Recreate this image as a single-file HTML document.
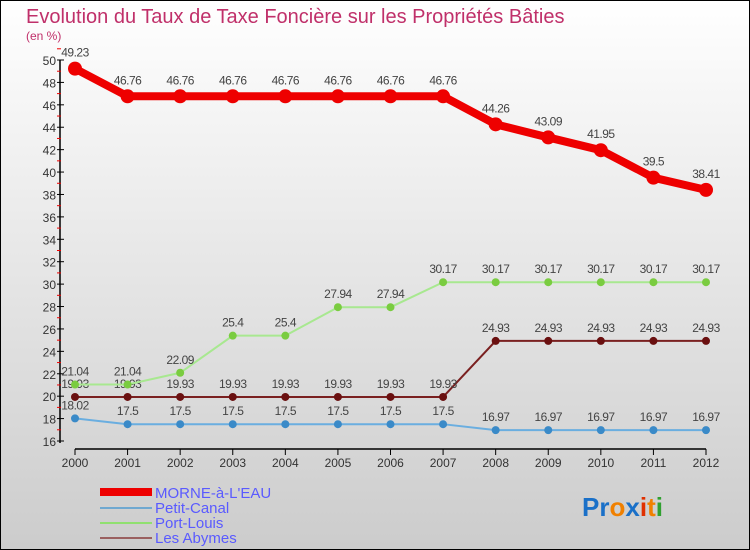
<!DOCTYPE html>
<html><head><meta charset="utf-8"><style>
body{margin:0}
#c{width:750px;height:550px;position:relative;background:linear-gradient(#fff,#ccc);font-family:"Liberation Sans",sans-serif;overflow:hidden}
</style></head><body>
<div id="c">
<svg id="s" width="750" height="550" style="position:absolute;left:0;top:0">
<rect x="0.5" y="0.5" width="749" height="549" fill="none" stroke="#000"/>
<text x="26" y="23" font-size="20" fill="#c0306a">Evolution du Taux de Taxe Foncière sur les Propriétés Bâties</text>
<text x="26" y="40" font-size="12" fill="#c0306a">(en %)</text>
<g id="ax"></g><g id="series"></g>
<g>
<rect x="100" y="488" width="52" height="8" fill="#e00"/>
<text x="155" y="498" font-size="15" fill="#5a5aff">MORNE-à-L'EAU</text>
<line x1="100" y1="508" x2="152" y2="508" stroke="#6fa8d0" stroke-width="2"/>
<text x="155" y="513" font-size="15" fill="#5a5aff">Petit-Canal</text>
<line x1="100" y1="523" x2="152" y2="523" stroke="#90e070" stroke-width="2"/>
<text x="155" y="528" font-size="15" fill="#5a5aff">Port-Louis</text>
<line x1="100" y1="538" x2="152" y2="538" stroke="#9a6060" stroke-width="2"/>
<text x="155" y="543" font-size="15" fill="#5a5aff">Les Abymes</text>
</g>
<text x="582" y="516" font-size="26" font-weight="bold"><tspan fill="#1a70c8">Pr</tspan><tspan fill="#f08000">o</tspan><tspan fill="#1a70c8">x</tspan><tspan fill="#e03000">i</tspan><tspan fill="#f08000">t</tspan><tspan fill="#30a030">i</tspan></text>
</svg>
</div>
<script>
const years=[2000,2001,2002,2003,2004,2005,2006,2007,2008,2009,2010,2011,2012];
const morne=[49.23,46.76,46.76,46.76,46.76,46.76,46.76,46.76,44.26,43.09,41.95,39.5,38.41];
const petitCanal=[18.02,17.5,17.5,17.5,17.5,17.5,17.5,17.5,16.97,16.97,16.97,16.97,16.97];
const portLouis=[21.04,21.04,22.09,25.4,25.4,27.94,27.94,30.17,30.17,30.17,30.17,30.17,30.17];
const abymes=[19.93,19.93,19.93,19.93,19.93,19.93,19.93,19.93,24.93,24.93,24.93,24.93,24.93];
const yTicks=[16,18,20,22,24,26,28,30,32,34,36,38,40,42,44,46,48,50];
const NS="http://www.w3.org/2000/svg";
const X=i=>75+i*(706-75)/(years.length-1);
const Y=v=>441-(v-16)*(441-60)/34;
function mk(p,t,a){const e=document.createElementNS(NS,t);for(const k in a)e.setAttribute(k,a[k]);p.appendChild(e);return e;}
const ax=document.getElementById('ax');
mk(ax,'line',{x1:60,y1:Y(50),x2:60,y2:Y(16)+2,stroke:'#000','stroke-width':1.5});
mk(ax,'line',{x1:X(0),y1:449,x2:X(12),y2:449,stroke:'#000','stroke-width':1.5});
yTicks.forEach(v=>{
 mk(ax,'line',{x1:57,y1:Y(v),x2:64,y2:Y(v),stroke:'#000'});
 mk(ax,'line',{x1:57,y1:Y(v+1),x2:61,y2:Y(v+1),stroke:'#e00'});
 const t=mk(ax,'text',{x:56,y:Y(v)+5,'font-size':12,'text-anchor':'end',fill:'#333'});t.textContent=v;
 
 
});
years.forEach((yr,i)=>{
 mk(ax,'line',{x1:X(i),y1:449,x2:X(i),y2:455,stroke:'#000'});
 const t=mk(ax,'text',{x:X(i),y:467,'font-size':12,'text-anchor':'middle',fill:'#333'});t.textContent=yr;
 
 
});
const sg=document.getElementById('series');
function series(data,color,lw,r,dot,name){
 const g=mk(sg,'g',{});
 
 
 mk(g,'polyline',{points:data.map((v,i)=>X(i)+','+Y(v)).join(' '),fill:'none',stroke:color,'stroke-width':lw});
 data.forEach((v,i)=>{
  const c=mk(g,'circle',{cx:X(i),cy:Y(v),r:r,fill:dot});
  
  
  const t=mk(g,'text',{x:X(i),y:Y(v)-(r+5),'font-size':12,'text-anchor':'middle',fill:'#444','letter-spacing':'-0.5'});
  t.textContent=v;
  
  
 });
}
series(abymes,'#7a2020',2,4,'#6a1010','series-les-abymes');
series(petitCanal,'#6aaee0',2,4,'#3a8ac8','series-petit-canal');
series(portLouis,'#a8e890',2,4,'#7acc40','series-port-louis');
series(morne,'#e00',8,7,'#e00','series-morne');
</script>
</body></html>
